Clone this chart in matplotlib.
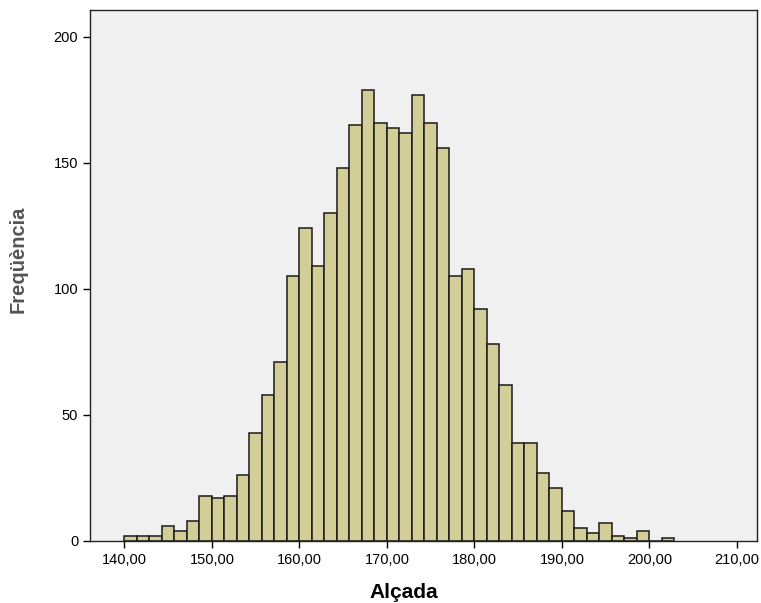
import numpy as np
import matplotlib
matplotlib.use("Agg")
import matplotlib.pyplot as plt

plt.rcParams["font.family"] = ["Liberation Sans", "DejaVu Sans"]

# histogram of height (Alçada), bins of 10/7 starting at 140
bin_start = 140.0
bin_width = 10 / 7
counts = [2, 2, 2, 6, 4, 8, 18, 17, 18, 26, 43, 58, 71, 105, 124, 109,
          130, 148, 165, 179, 166, 164, 162, 177, 166, 156, 105, 108, 92,
          78, 62, 39, 39, 27, 21, 12, 5, 3, 7, 2, 1, 4, 0, 1]
x_ticks = [140, 150, 160, 170, 180, 190, 200, 210]
x_labels = ["140,00", "150,00", "160,00", "170,00", "180,00", "190,00", "200,00", "210,00"]
y_ticks = [0, 50, 100, 150, 200]

lefts = bin_start + bin_width * np.arange(len(counts))

fig = plt.figure(figsize=(7.61, 6.03), dpi=100)
ax = fig.add_axes([90 / 761, 1 - 541 / 603, 667 / 761, 531 / 603])
ax.set_facecolor("#f0f0f0")

ax.bar(lefts, counts, width=bin_width, align="edge", color="#d3ce98",
       edgecolor="#1a1a1a", linewidth=1.1)

ax.set_xlim(136.06, 212.3)
ax.set_ylim(0, 210.7)
ax.set_xticks(x_ticks)
ax.set_xticklabels(x_labels)
ax.set_yticks(y_ticks)
ax.tick_params(direction="out", length=5, width=1, labelsize=10.5, colors="black")
for s in ax.spines.values():
    s.set_color("#222222")
    s.set_linewidth(1)

ax.set_xlabel("Alçada", fontsize=15, fontweight="bold")
ax.xaxis.set_label_coords(0.47, -0.08)
ax.set_ylabel("Freqüència", fontsize=14.5, fontweight="bold", color="#555555")
ax.yaxis.set_label_coords(-0.093, 0.53)

fig.savefig("out.png", dpi=100)
